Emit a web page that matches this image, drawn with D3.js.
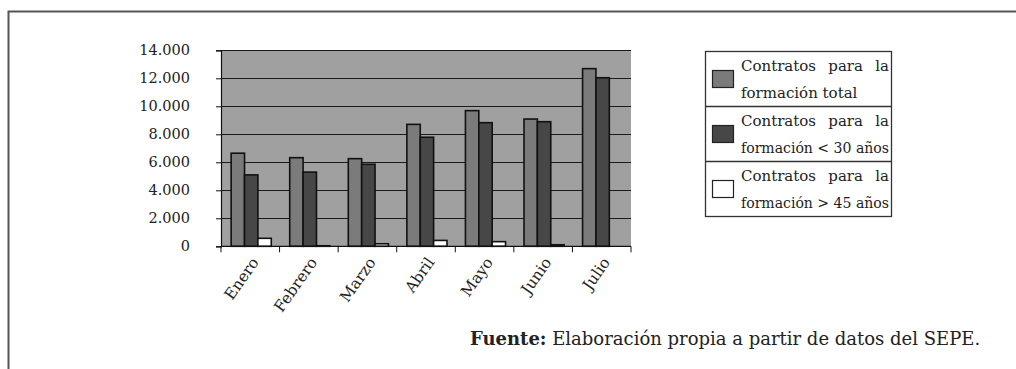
<!DOCTYPE html>
<html>
<head>
<meta charset="utf-8">
<script src="https://cdn.jsdelivr.net/npm/d3@7"></script>
<style>
  html, body { margin: 0; padding: 0; background: #fff; }
  svg { display: block; }
  text { font-family: "DejaVu Serif", "Liberation Serif", serif; fill: #222; }
</style>
</head>
<body>
<svg id="chart" width="1016" height="369"></svg>
<script>
// Monthly training contracts (contratos para la formación)
const months = ["Enero", "Febrero", "Marzo", "Abril", "Mayo", "Junio", "Julio"];
const seriesNames = ["total", "menos30", "mas45"];
const totalValues   = [6650, 6330, 6260, 8710, 9690, 9090, 12690];
const under30Values = [5100, 5300, 5860, 7790, 8830, 8900, 12040];
const over45Values  = [570, 40, 180, 420, 330, 110, null];
const yTicks = [0, 2000, 4000, 6000, 8000, 10000, 12000, 14000];
const legendLines = [
  ["Contratos para la", "formación total"],
  ["Contratos para la", "formación < 30 años"],
  ["Contratos para la", "formación > 45 años"]
];
const seriesColors = ["#7b7b7b", "#474747", "#ffffff"];

const seriesValues = [totalValues, under30Values, over45Values];
const FONT = "'DejaVu Serif', 'Liberation Serif', serif";

const svg = d3.select("#chart");

// outer frame (top and left edges)
svg.append("path")
  .attr("d", "M8.5,369 V11.5 H1016")
  .attr("fill", "none")
  .attr("stroke", "#555")
  .attr("stroke-width", 2);

const plot = { left: 221, right: 631, top: 50.3, bottom: 246.3 };

const x = d3.scaleBand().domain(months).range([plot.left, plot.right]).padding(0);
const xs = d3.scaleBand().domain(seriesNames).range([0, x.bandwidth()])
  .paddingInner(0).paddingOuter(0.69).align(0.55);
const y = d3.scaleLinear().domain([0, 14000]).range([plot.bottom, plot.top]);

// plot area background
svg.append("rect")
  .attr("x", plot.left).attr("y", plot.top)
  .attr("width", plot.right - plot.left).attr("height", plot.bottom - plot.top)
  .attr("fill", "#a0a0a0");

// horizontal gridlines
svg.append("g")
  .selectAll("line")
  .data(yTicks.filter(d => d > 0))
  .join("line")
  .attr("x1", plot.left).attr("x2", plot.right)
  .attr("y1", d => Math.round(y(d)) + 0.5).attr("y2", d => Math.round(y(d)) + 0.5)
  .attr("stroke", "#1a1a1a").attr("stroke-width", 1.2);

// bars
const groups = svg.append("g")
  .selectAll("g")
  .data(months)
  .join("g")
  .attr("transform", d => `translate(${x(d)},0)`);

groups.selectAll("rect")
  .data((m, i) => seriesNames.map((s, k) => ({ s, k, v: seriesValues[k][i] })).filter(d => d.v != null))
  .join("rect")
  .attr("x", d => xs(d.s))
  .attr("width", xs.bandwidth())
  .attr("y", d => y(d.v))
  .attr("height", d => y(0) - y(d.v))
  .attr("fill", d => seriesColors[d.k])
  .attr("stroke", "#111")
  .attr("stroke-width", 1.6);

// y axis
const loc = d3.formatLocale({ decimal: ",", thousands: ".", grouping: [3], currency: ["", "€"] });
const yAxis = d3.axisLeft(y).tickValues(yTicks).tickFormat(loc.format(",.0f"))
  .tickSize(5).tickPadding(26);
const gy = svg.append("g").attr("transform", `translate(${plot.left},0)`).call(yAxis);
gy.select(".domain").attr("stroke", "#111").attr("stroke-width", 1.2);
gy.selectAll(".tick line").attr("stroke", "#111");
gy.selectAll("text").attr("font-size", 14.5).attr("fill", "#222").attr("font-family", FONT);

// x axis with ticks at category boundaries
const gx = svg.append("g").attr("transform", `translate(0,${plot.bottom})`);
gx.append("line").attr("x1", plot.left).attr("x2", plot.right)
  .attr("stroke", "#111").attr("stroke-width", 1.2);
gx.selectAll("line.tk")
  .data(months.map(m => x(m)).concat([plot.right]))
  .join("line").attr("class", "tk")
  .attr("x1", d => d).attr("x2", d => d).attr("y1", 0).attr("y2", 6)
  .attr("stroke", "#111");
gx.selectAll("text")
  .data(months)
  .join("text")
  .attr("text-anchor", "end")
  .attr("font-size", 15.5)
  .attr("transform", d => `translate(${x(d) + x.bandwidth() / 2 + 9},${16}) rotate(-55)`)
  .text(d => d);

// legend
const lg = { left: 705, right: 891, top: 51, rowH: 55 };
const legend = svg.append("g");
legend.append("rect")
  .attr("x", lg.left + 0.5).attr("y", lg.top + 0.5)
  .attr("width", lg.right - lg.left).attr("height", lg.rowH * 3)
  .attr("fill", "#fff").attr("stroke", "#333").attr("stroke-width", 1.3);
legend.selectAll("line.sep")
  .data([1, 2])
  .join("line").attr("class", "sep")
  .attr("x1", lg.left).attr("x2", lg.right + 1)
  .attr("y1", d => lg.top + d * lg.rowH + 0.5).attr("y2", d => lg.top + d * lg.rowH + 0.5)
  .attr("stroke", "#333").attr("stroke-width", 1.3);

const textLeft = 741, textRight = 889;
legendLines.forEach((lines, r) => {
  const top = lg.top + r * lg.rowH;
  legend.append("rect")
    .attr("x", 712.5).attr("y", top + 19.5).attr("width", 21).attr("height", 17)
    .attr("fill", seriesColors[r]).attr("stroke", "#222").attr("stroke-width", 1.2);
  lines.forEach((line, li) => {
    const baseY = top + 20 + li * 27;
    const justify = !(r === 0 && li === 1);
    if (!justify) {
      legend.append("text").attr("x", textLeft).attr("y", baseY)
        .attr("font-size", 15).text(line);
      return;
    }
    // spread the words across the full text column
    const words = line.split(" ");
    const nodes = words.map(w => legend.append("text").attr("y", baseY)
      .attr("font-size", 15).text(w));
    const widths = nodes.map(n => n.node().getComputedTextLength());
    const total = d3.sum(widths);
    const gap = (textRight - textLeft - total) / (words.length - 1);
    if (gap < 2) {
      nodes.forEach(n => n.remove());
      legend.append("text").attr("x", textLeft).attr("y", baseY)
        .attr("font-size", 15)
        .attr("textLength", textRight - textLeft).attr("lengthAdjust", "spacingAndGlyphs")
        .text(line);
      return;
    }
    let cx = textLeft;
    nodes.forEach((n, k) => { n.attr("x", cx); cx += widths[k] + gap; });
  });
});

// source note
const note = svg.append("text").attr("x", 470).attr("y", 345).attr("font-size", 18);
note.append("tspan").attr("font-weight", "bold").text("Fuente:");
note.append("tspan").text(" Elaboración propia a partir de datos del SEPE.");
</script>
</body>
</html>
